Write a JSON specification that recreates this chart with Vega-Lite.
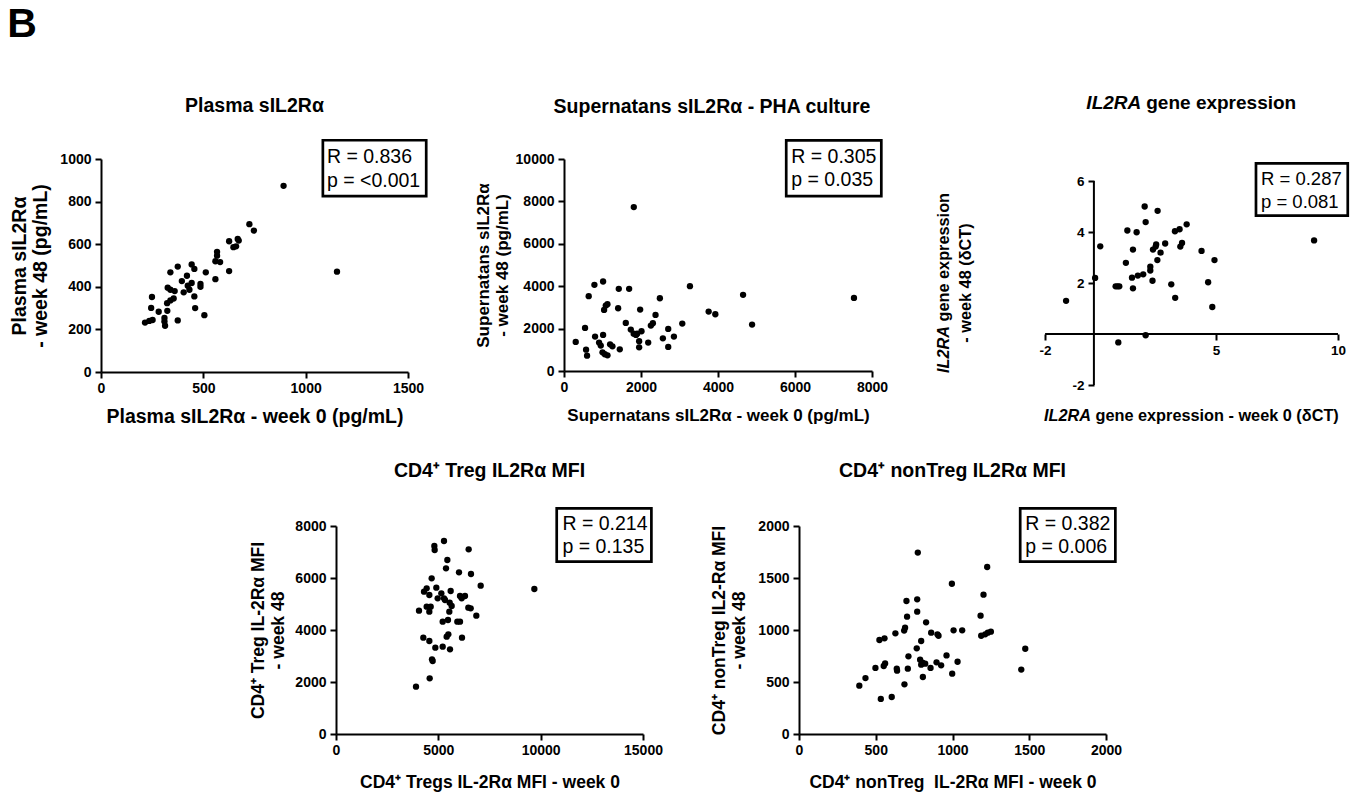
{
  "$schema": "https://vega.github.io/schema/vega-lite/v6.json",
  "padding": {"left": 7, "top": 4, "right": 5, "bottom": 5},
  "background": "white",
  "title": {"text": "B", "anchor": "start", "frame": "bounds", "fontSize": 41, "fontWeight": "bold", "offset": 48, "dx": -2, "color": "black", "font": "Liberation Sans"},
  "spacing": 35,
  "datasets": {
    "plasma": [
      {"week0": 215, "week48": 232}, {"week0": 236, "week48": 240}, {"week0": 252, "week48": 244}, {"week0": 249, "week48": 352},
      {"week0": 245, "week48": 301}, {"week0": 282, "week48": 283}, {"week0": 310, "week48": 254}, {"week0": 310, "week48": 237},
      {"week0": 313, "week48": 217}, {"week0": 324, "week48": 287}, {"week0": 323, "week48": 323}, {"week0": 326, "week48": 396},
      {"week0": 339, "week48": 386}, {"week0": 339, "week48": 336}, {"week0": 355, "week48": 345}, {"week0": 339, "week48": 468},
      {"week0": 360, "week48": 380}, {"week0": 375, "week48": 495}, {"week0": 375, "week48": 242}, {"week0": 395, "week48": 427},
      {"week0": 404, "week48": 374}, {"week0": 420, "week48": 452}, {"week0": 424, "week48": 405}, {"week0": 432, "week48": 386},
      {"week0": 443, "week48": 505}, {"week0": 456, "week48": 484}, {"week0": 443, "week48": 418}, {"week0": 456, "week48": 355},
      {"week0": 460, "week48": 300}, {"week0": 486, "week48": 413}, {"week0": 486, "week48": 400}, {"week0": 505, "week48": 267},
      {"week0": 512, "week48": 468}, {"week0": 559, "week48": 436}, {"week0": 559, "week48": 520}, {"week0": 567, "week48": 564},
      {"week0": 567, "week48": 546}, {"week0": 582, "week48": 516}, {"week0": 626, "week48": 474}, {"week0": 626, "week48": 614},
      {"week0": 647, "week48": 586}, {"week0": 660, "week48": 590}, {"week0": 668, "week48": 625}, {"week0": 673, "week48": 617},
      {"week0": 725, "week48": 694}, {"week0": 747, "week48": 664}, {"week0": 892, "week48": 874}, {"week0": 1153, "week48": 471}
    ],
    "supern": [
      {"week0": 304, "week48": 1370}, {"week0": 547, "week48": 2031}, {"week0": 573, "week48": 1008}, {"week0": 599, "week48": 724},
      {"week0": 642, "week48": 3528}, {"week0": 790, "week48": 4063}, {"week0": 807, "week48": 1622}, {"week0": 911, "week48": 1339},
      {"week0": 955, "week48": 1197}, {"week0": 1000, "week48": 880}, {"week0": 1015, "week48": 4220}, {"week0": 1015, "week48": 1701},
      {"week0": 1041, "week48": 2882}, {"week0": 1060, "week48": 790}, {"week0": 1085, "week48": 3087}, {"week0": 1128, "week48": 3150},
      {"week0": 1130, "week48": 740}, {"week0": 1197, "week48": 1260}, {"week0": 1258, "week48": 1165}, {"week0": 1406, "week48": 2961},
      {"week0": 1423, "week48": 3874}, {"week0": 1449, "week48": 1024}, {"week0": 1605, "week48": 2268}, {"week0": 1692, "week48": 3874},
      {"week0": 1735, "week48": 1953}, {"week0": 1813, "week48": 7732}, {"week0": 1810, "week48": 1760}, {"week0": 1870, "week48": 1700},
      {"week0": 1900, "week48": 1760}, {"week0": 1952, "week48": 1402}, {"week0": 1952, "week48": 1118}, {"week0": 1978, "week48": 2898},
      {"week0": 2013, "week48": 1874}, {"week0": 2187, "week48": 1339}, {"week0": 2256, "week48": 2142}, {"week0": 2308, "week48": 2252},
      {"week0": 2377, "week48": 2646}, {"week0": 2490, "week48": 3433}, {"week0": 2568, "week48": 1543}, {"week0": 2707, "week48": 1984},
      {"week0": 2707, "week48": 1134}, {"week0": 2855, "week48": 1622}, {"week0": 3072, "week48": 2236}, {"week0": 3271, "week48": 4000},
      {"week0": 3757, "week48": 2803}, {"week0": 3931, "week48": 2677}, {"week0": 4651, "week48": 3591}, {"week0": 4885, "week48": 2189},
      {"week0": 7532, "week48": 3449}
    ],
    "gene": [
      {"week0": -1.14, "week48": 1.3}, {"week0": 0.05, "week48": 2.2}, {"week0": 0.26, "week48": 3.44}, {"week0": 0.89, "week48": 1.87},
      {"week0": 0.97, "week48": 1.87}, {"week0": 1.04, "week48": 1.87}, {"week0": 1.0, "week48": -0.33}, {"week0": 1.31, "week48": 2.79},
      {"week0": 1.37, "week48": 4.06}, {"week0": 1.56, "week48": 2.21}, {"week0": 1.6, "week48": 3.31}, {"week0": 1.6, "week48": 1.79},
      {"week0": 1.75, "week48": 3.99}, {"week0": 1.8, "week48": 2.29}, {"week0": 2.02, "week48": 2.34}, {"week0": 2.08, "week48": 5.0},
      {"week0": 2.12, "week48": 4.39}, {"week0": 2.12, "week48": -0.05}, {"week0": 2.31, "week48": 2.49}, {"week0": 2.31, "week48": 2.64},
      {"week0": 2.4, "week48": 2.09}, {"week0": 2.42, "week48": 3.31}, {"week0": 2.53, "week48": 3.43}, {"week0": 2.55, "week48": 3.51},
      {"week0": 2.61, "week48": 4.83}, {"week0": 2.6, "week48": 2.9}, {"week0": 2.73, "week48": 3.19}, {"week0": 2.92, "week48": 3.55},
      {"week0": 3.17, "week48": 1.95}, {"week0": 3.32, "week48": 4.03}, {"week0": 3.33, "week48": 1.42}, {"week0": 3.51, "week48": 4.11},
      {"week0": 3.54, "week48": 3.43}, {"week0": 3.61, "week48": 3.57}, {"week0": 3.8, "week48": 4.3}, {"week0": 4.41, "week48": 3.26},
      {"week0": 4.68, "week48": 2.03}, {"week0": 4.85, "week48": 1.06}, {"week0": 4.94, "week48": 2.9}, {"week0": 9.02, "week48": 3.67}
    ],
    "treg": [
      {"week0": 3909, "week48": 1820}, {"week0": 4055, "week48": 4743}, {"week0": 4267, "week48": 3705}, {"week0": 4300, "week48": 5474},
      {"week0": 4430, "week48": 5602}, {"week0": 4430, "week48": 4897}, {"week0": 4560, "week48": 3577}, {"week0": 4560, "week48": 5346},
      {"week0": 4560, "week48": 4705}, {"week0": 4577, "week48": 2141}, {"week0": 4626, "week48": 4897}, {"week0": 4674, "week48": 5987},
      {"week0": 4691, "week48": 2872}, {"week0": 4723, "week48": 2808}, {"week0": 4805, "week48": 7230}, {"week0": 4821, "week48": 7077},
      {"week0": 4854, "week48": 3320}, {"week0": 4902, "week48": 5628}, {"week0": 4968, "week48": 5218}, {"week0": 5147, "week48": 5410},
      {"week0": 5212, "week48": 3359}, {"week0": 5212, "week48": 4320}, {"week0": 5277, "week48": 7423}, {"week0": 5277, "week48": 5218},
      {"week0": 5326, "week48": 5154}, {"week0": 5375, "week48": 6372}, {"week0": 5407, "week48": 3743}, {"week0": 5440, "week48": 6692},
      {"week0": 5472, "week48": 4384}, {"week0": 5489, "week48": 3833}, {"week0": 5537, "week48": 4705}, {"week0": 5554, "week48": 5051},
      {"week0": 5570, "week48": 3256}, {"week0": 5603, "week48": 5500}, {"week0": 5652, "week48": 4923}, {"week0": 6010, "week48": 6218},
      {"week0": 5928, "week48": 4320}, {"week0": 6059, "week48": 5307}, {"week0": 6059, "week48": 4320}, {"week0": 6140, "week48": 5218},
      {"week0": 6156, "week48": 3705}, {"week0": 6303, "week48": 5307}, {"week0": 6482, "week48": 7102}, {"week0": 6466, "week48": 4859},
      {"week0": 6580, "week48": 4833}, {"week0": 6596, "week48": 6154}, {"week0": 6857, "week48": 4551}, {"week0": 7069, "week48": 5705},
      {"week0": 9691, "week48": 5577}
    ],
    "nontreg": [
      {"week0": 393, "week48": 465}, {"week0": 433, "week48": 538}, {"week0": 498, "week48": 635}, {"week0": 524, "week48": 904},
      {"week0": 533, "week48": 337}, {"week0": 552, "week48": 654}, {"week0": 561, "week48": 679}, {"week0": 557, "week48": 920},
      {"week0": 604, "week48": 356}, {"week0": 628, "week48": 968}, {"week0": 637, "week48": 628}, {"week0": 639, "week48": 609},
      {"week0": 685, "week48": 994}, {"week0": 691, "week48": 1022}, {"week0": 687, "week48": 478}, {"week0": 700, "week48": 1279},
      {"week0": 704, "week48": 1128}, {"week0": 709, "week48": 628}, {"week0": 713, "week48": 747}, {"week0": 767, "week48": 824},
      {"week0": 770, "week48": 1295}, {"week0": 770, "week48": 1176}, {"week0": 774, "week48": 1744}, {"week0": 789, "week48": 715},
      {"week0": 796, "week48": 894}, {"week0": 796, "week48": 667}, {"week0": 804, "week48": 686}, {"week0": 822, "week48": 676},
      {"week0": 807, "week48": 548}, {"week0": 828, "week48": 1074}, {"week0": 857, "week48": 635}, {"week0": 861, "week48": 974},
      {"week0": 896, "week48": 689}, {"week0": 902, "week48": 958}, {"week0": 909, "week48": 945}, {"week0": 926, "week48": 660},
      {"week0": 961, "week48": 756}, {"week0": 996, "week48": 1445}, {"week0": 998, "week48": 580}, {"week0": 1007, "week48": 997},
      {"week0": 1033, "week48": 695}, {"week0": 1063, "week48": 997}, {"week0": 1183, "week48": 1138}, {"week0": 1187, "week48": 945},
      {"week0": 1202, "week48": 1340}, {"week0": 1213, "week48": 958}, {"week0": 1230, "week48": 974}, {"week0": 1250, "week48": 984},
      {"week0": 1226, "week48": 1606}, {"week0": 1448, "week48": 619}, {"week0": 1474, "week48": 820}
    ]
  },
  "vconcat": [
    {
      "bounds": "flush",
      "spacing": 156,
      "hconcat": [
        {
          "width": 307, "height": 213,
          "title": {"text": "Plasma sIL2Rα", "offset": 22},
          "layer": [
            {
              "data": {"name": "plasma"},
              "mark": {"type": "circle", "size": 40, "color": "black", "opacity": 1},
              "encoding": {
                "x": {"field": "week0", "type": "quantitative", "scale": {"domain": [0, 1500], "nice": false},
                      "axis": {"values": [0, 500, 1000, 1500], "title": "Plasma sIL2Rα - week 0 (pg/mL)", "titleFontSize": 19.5, "titlePadding": 12}},
                "y": {"field": "week48", "type": "quantitative", "scale": {"domain": [0, 1000], "nice": false},
                      "axis": {"values": [0, 200, 400, 600, 800, 1000], "title": ["Plasma sIL2Rα", "- week 48 (pg/mL)"], "titleFontSize": 19.5, "titleLineHeight": 21.7, "titlePadding": 9}}
              }
            },
            {"data": {"values": [{}]}, "mark": {"type": "rect", "fill": "white", "stroke": "black", "strokeWidth": 2.7},
             "encoding": {"x": {"datum": 1084}, "x2": {"datum": 1589}, "y": {"datum": 1088}, "y2": {"datum": 826}}},
            {"data": {"values": [{}]}, "mark": {"type": "text", "align": "left", "baseline": "middle", "fontSize": 19.5, "color": "black"},
             "encoding": {"x": {"datum": 1104}, "y": {"datum": 1009}, "text": {"value": "R = 0.836"}}},
            {"data": {"values": [{}]}, "mark": {"type": "text", "align": "left", "baseline": "middle", "fontSize": 19.5, "color": "black"},
             "encoding": {"x": {"datum": 1104}, "y": {"datum": 899}, "text": {"value": "p = <0.001"}}}
          ]
        },
        {
          "width": 308, "height": 212,
          "title": {"text": "Supernatans sIL2Rα - PHA culture", "offset": 22, "dx": -6},
          "layer": [
            {
              "data": {"name": "supern"},
              "mark": {"type": "circle", "size": 40, "color": "black", "opacity": 1},
              "encoding": {
                "x": {"field": "week0", "type": "quantitative", "scale": {"domain": [0, 8000], "nice": false},
                      "axis": {"values": [0, 2000, 4000, 6000, 8000], "title": "Supernatans sIL2Rα - week 0 (pg/mL)", "titleFontSize": 17, "titlePadding": 13}},
                "y": {"field": "week48", "type": "quantitative", "scale": {"domain": [0, 10000], "nice": false},
                      "axis": {"values": [0, 2000, 4000, 6000, 8000, 10000], "title": ["Supernatans sIL2Rα", "- week 48 (pg/mL)"], "titleFontSize": 17, "titleLineHeight": 19, "titlePadding": 4}}
              }
            },
            {"data": {"values": [{}]}, "mark": {"type": "rect", "fill": "white", "stroke": "black", "strokeWidth": 2.7},
             "encoding": {"x": {"datum": 5772}, "x2": {"datum": 8242}, "y": {"datum": 10879}, "y2": {"datum": 8252}}},
            {"data": {"values": [{}]}, "mark": {"type": "text", "align": "left", "baseline": "middle", "fontSize": 19.5, "color": "black"},
             "encoding": {"x": {"datum": 5902}, "y": {"datum": 10094}, "text": {"value": "R = 0.305"}}},
            {"data": {"values": [{}]}, "mark": {"type": "text", "align": "left", "baseline": "middle", "fontSize": 19.5, "color": "black"},
             "encoding": {"x": {"datum": 5902}, "y": {"datum": 9022}, "text": {"value": "p = 0.035"}}}
          ]
        },
        {
          "width": 310, "height": 226,
          "layer": [
            {"data": {"values": [{}]}, "mark": {"type": "rule", "color": "black", "strokeWidth": 2},
             "encoding": {"x": {"datum": -2}, "x2": {"datum": 10}, "y": {"datum": 0}}},
            {"data": {"values": [{}]}, "mark": {"type": "rule", "color": "black", "strokeWidth": 2},
             "encoding": {"x": {"datum": 0}, "y": {"datum": -2}, "y2": {"datum": 6}}},
            {
              "data": {"name": "gene"},
              "mark": {"type": "circle", "size": 40, "color": "black", "opacity": 1},
              "encoding": {
                "x": {"field": "week0", "type": "quantitative", "scale": {"domain": [-2.7, 10], "nice": false, "zero": false},
                      "axis": {"values": [-2, 5, 10], "title": null, "domain": false, "offset": -51, "labelFontSize": 13.5, "labelExpr": "'' + datum.value"}},
                "y": {"field": "week48", "type": "quantitative", "scale": {"domain": [-2, 6.864], "nice": false, "zero": false},
                      "axis": {"values": [-2, 2, 4, 6], "title": null, "domain": false, "offset": -66, "labelFontSize": 13.5, "labelExpr": "'' + datum.value"}}
              }
            },
            {"data": {"values": [{}]}, "mark": {"type": "rect", "fill": "white", "stroke": "black", "strokeWidth": 2.7},
             "encoding": {"x": {"datum": 6.64}, "x2": {"datum": 10.4}, "y": {"datum": 6.695}, "y2": {"datum": 4.64}}},
            {"data": {"values": [{}]}, "mark": {"type": "text", "align": "left", "baseline": "middle", "fontSize": 18.5, "color": "black"},
             "encoding": {"x": {"datum": 6.845}, "y": {"datum": 6.08}, "text": {"value": "R = 0.287"}}},
            {"data": {"values": [{}]}, "mark": {"type": "text", "align": "left", "baseline": "middle", "fontSize": 18.5, "color": "black"},
             "encoding": {"x": {"datum": 6.845}, "y": {"datum": 5.19}, "text": {"value": "p = 0.081"}}},
            {"data": {"values": [{}]}, "mark": {"type": "text", "align": "right", "baseline": "alphabetic", "fontSize": 19, "fontWeight": "bold", "fontStyle": "italic", "color": "black"},
             "encoding": {"x": {"datum": 1.94}, "y": {"datum": 8.82}, "text": {"value": "IL2RA"}}},
            {"data": {"values": [{}]}, "mark": {"type": "text", "align": "left", "baseline": "alphabetic", "dx": 5, "fontSize": 19, "fontWeight": "bold", "color": "black"},
             "encoding": {"x": {"datum": 1.94}, "y": {"datum": 8.82}, "text": {"value": "gene expression"}}},
            {"data": {"values": [{}]}, "mark": {"type": "text", "align": "right", "baseline": "middle", "fontSize": 16.3, "fontWeight": "bold", "fontStyle": "italic", "color": "black"},
             "encoding": {"x": {"datum": -0.12}, "y": {"datum": -3.2}, "text": {"value": "IL2RA"}}},
            {"data": {"values": [{}]}, "mark": {"type": "text", "align": "left", "baseline": "middle", "dx": 4.5, "fontSize": 16.3, "fontWeight": "bold", "color": "black"},
             "encoding": {"x": {"datum": -0.12}, "y": {"datum": -3.2}, "text": {"value": "gene expression - week 0 (δCT)"}}},
            {"data": {"values": [{}]}, "mark": {"type": "text", "align": "right", "baseline": "middle", "angle": 270, "fontSize": 16.3, "fontWeight": "bold", "fontStyle": "italic", "color": "black"},
             "encoding": {"x": {"datum": -6.14}, "y": {"datum": 0.315}, "text": {"value": "IL2RA"}}},
            {"data": {"values": [{}]}, "mark": {"type": "text", "align": "left", "baseline": "middle", "angle": 270, "dx": 4.5, "fontSize": 16.3, "fontWeight": "bold", "color": "black"},
             "encoding": {"x": {"datum": -6.14}, "y": {"datum": 0.315}, "text": {"value": "gene expression"}}},
            {"data": {"values": [{}]}, "mark": {"type": "text", "align": "center", "baseline": "middle", "angle": 270, "fontSize": 16.3, "fontWeight": "bold", "color": "black"},
             "encoding": {"x": {"datum": -5.24}, "y": {"datum": 2.0}, "text": {"value": "- week 48 (δCT)"}}}
          ]
        }
      ]
    },
    {
      "bounds": "flush",
      "spacing": 156,
      "hconcat": [
        {
          "width": 79, "height": 10,
          "data": {"values": []},
          "mark": "point"
        },
        {
          "width": 307, "height": 208,
          "title": {"text": "CD4⁺ Treg IL2Rα MFI", "offset": 25},
          "layer": [
            {
              "data": {"name": "treg"},
              "mark": {"type": "circle", "size": 40, "color": "black", "opacity": 1},
              "encoding": {
                "x": {"field": "week0", "type": "quantitative", "scale": {"domain": [0, 15000], "nice": false},
                      "axis": {"values": [0, 5000, 10000, 15000], "title": "CD4⁺ Tregs IL-2Rα MFI - week 0", "titleFontSize": 17.5, "titlePadding": 16}},
                "y": {"field": "week48", "type": "quantitative", "scale": {"domain": [0, 8000], "nice": false},
                      "axis": {"values": [0, 2000, 4000, 6000, 8000], "title": ["CD4⁺ Treg IL-2Rα MFI", "- week 48"], "titleFontSize": 17.5, "titleLineHeight": 20, "titlePadding": 7.5}}
              }
            },
            {"data": {"values": [{}]}, "mark": {"type": "rect", "fill": "white", "stroke": "black", "strokeWidth": 2.7},
             "encoding": {"x": {"datum": 10784}, "x2": {"datum": 15410}, "y": {"datum": 8681}, "y2": {"datum": 6627}}},
            {"data": {"values": [{}]}, "mark": {"type": "text", "align": "left", "baseline": "middle", "fontSize": 19.5, "color": "black"},
             "encoding": {"x": {"datum": 11062}, "y": {"datum": 8065}, "text": {"value": "R = 0.214"}}},
            {"data": {"values": [{}]}, "mark": {"type": "text", "align": "left", "baseline": "middle", "fontSize": 19.5, "color": "black"},
             "encoding": {"x": {"datum": 11062}, "y": {"datum": 7181}, "text": {"value": "p = 0.135"}}}
          ]
        },
        {
          "width": 307, "height": 208,
          "title": {"text": "CD4⁺ nonTreg IL2Rα MFI", "offset": 25},
          "layer": [
            {
              "data": {"name": "nontreg"},
              "mark": {"type": "circle", "size": 40, "color": "black", "opacity": 1},
              "encoding": {
                "x": {"field": "week0", "type": "quantitative", "scale": {"domain": [0, 2000], "nice": false},
                      "axis": {"values": [0, 500, 1000, 1500, 2000], "title": "CD4⁺ nonTreg\u00a0 IL-2Rα MFI - week 0", "titleFontSize": 17.5, "titlePadding": 16}},
                "y": {"field": "week48", "type": "quantitative", "scale": {"domain": [0, 2000], "nice": false},
                      "axis": {"values": [0, 500, 1000, 1500, 2000], "title": ["CD4⁺ nonTreg IL2-Rα MFI", "- week 48"], "titleFontSize": 17.5, "titleLineHeight": 20, "titlePadding": 9}}
              }
            },
            {"data": {"values": [{}]}, "mark": {"type": "rect", "fill": "white", "stroke": "black", "strokeWidth": 2.7},
             "encoding": {"x": {"datum": 1441}, "x2": {"datum": 2061}, "y": {"datum": 2170}, "y2": {"datum": 1657}}},
            {"data": {"values": [{}]}, "mark": {"type": "text", "align": "left", "baseline": "middle", "fontSize": 19.5, "color": "black"},
             "encoding": {"x": {"datum": 1474}, "y": {"datum": 2016}, "text": {"value": "R = 0.382"}}},
            {"data": {"values": [{}]}, "mark": {"type": "text", "align": "left", "baseline": "middle", "fontSize": 19.5, "color": "black"},
             "encoding": {"x": {"datum": 1474}, "y": {"datum": 1795}, "text": {"value": "p = 0.006"}}}
          ]
        }
      ]
    }
  ],
  "config": {
    "font": "Liberation Sans",
    "numberFormat": "d",
    "view": {"stroke": null},
    "axis": {
      "grid": false, "domainColor": "black", "domainWidth": 2, "tickColor": "black", "tickWidth": 2, "tickSize": 6,
      "labelFont": "Liberation Sans", "labelFontWeight": "bold", "labelFontSize": 14, "labelColor": "black",
      "labelFlush": false, "labelOverlap": false,
      "titleFont": "Liberation Sans", "titleFontWeight": "bold", "titleColor": "black"
    },
    "axisX": {"labelPadding": 3},
    "axisY": {"labelPadding": 4},
    "title": {"font": "Liberation Sans", "fontWeight": "bold", "fontSize": 19.5, "color": "black", "anchor": "middle", "frame": "group"},
    "text": {"font": "Liberation Sans"}
  }
}
